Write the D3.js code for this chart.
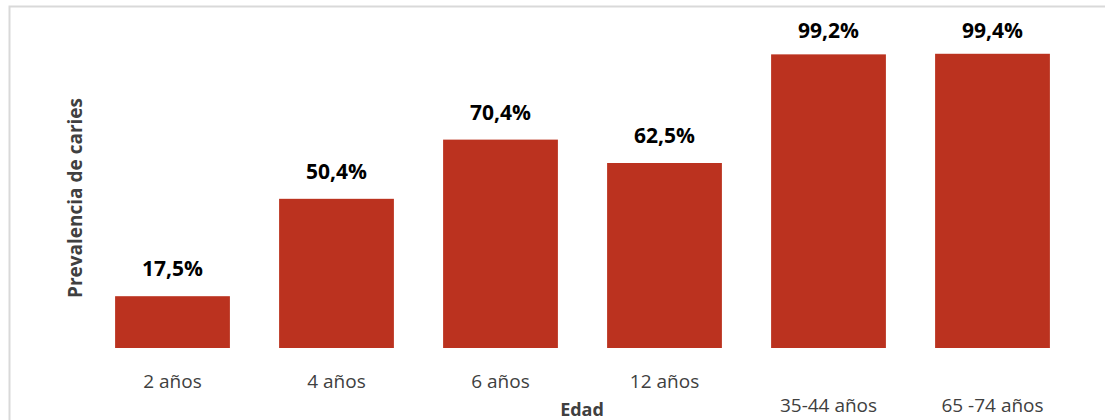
<!DOCTYPE html>
<html>
<head>
<meta charset="utf-8">
<script src="https://cdn.jsdelivr.net/npm/d3@7"></script>
<style>
  html, body { margin: 0; padding: 0; background: #fff; }
  svg { display: block; }
</style>
</head>
<body>
<svg id="chart" width="1105" height="420"></svg>
<script>
// Data
const categories = ["2 años", "4 años", "6 años", "12 años", "\n35-44 años", "\n65 -74 años"];
const values = [17.5, 50.4, 70.4, 62.5, 99.2, 99.4];
const yTitle = "Prevalencia de caries";
const xTitle = "Edad";

const svg = d3.select("#chart");

// Frame
svg.append("rect")
  .attr("x", 9.5).attr("y", 6.5)
  .attr("width", 1200).attr("height", 500)
  .attr("fill", "#fff")
  .attr("stroke", "#d9d9d9")
  .attr("stroke-width", 2);

const x = d3.scaleBand()
  .domain(categories)
  .range([90.5, 1074.5])
  .paddingInner(0.3)
  .paddingOuter(0.15);

const y = d3.scaleLinear().domain([0, 100]).range([348, 52]);

const locale = d3.formatLocale({decimal: ",", thousands: ".", grouping: [3], currency: ["", "€"]});
const fmt = locale.format(".1f");

const data = categories.map((c, i) => ({c, v: values[i]}));

// Bars
svg.append("g").selectAll("rect")
  .data(data)
  .join("rect")
  .attr("x", d => x(d.c))
  .attr("y", d => y(d.v))
  .attr("width", x.bandwidth())
  .attr("height", d => y(0) - y(d.v))
  .attr("fill", "#bb321f");

// Value labels
svg.append("g").selectAll("text")
  .data(data)
  .join("text")
  .attr("x", d => x(d.c) + x.bandwidth() / 2)
  .attr("y", d => Math.max(y(d.v) - 20, 38))
  .attr("text-anchor", "middle")
  .attr("font-family", "'Open Sans', sans-serif")
  .attr("font-weight", "bold")
  .attr("font-size", 21)
  .attr("fill", "#000")
  .text(d => fmt(d.v) + "%");

// X axis
const xAxis = svg.append("g")
  .attr("transform", `translate(0,${y(0)})`)
  .call(d3.axisBottom(x).tickSize(0).tickFormat(""));
xAxis.select(".domain").remove();
xAxis.selectAll(".tick").each(function(d) {
  const t = d3.select(this).append("text")
    .attr("text-anchor", "middle")
    .attr("font-family", "'Open Sans', sans-serif")
    .attr("font-size", 19)
    .attr("fill", "#404040");
  d.split("\n").forEach((line, i) => {
    t.append("tspan").attr("x", 0).attr("y", 40 + i * 24).text(line);
  });
});

// Axis titles
svg.append("text")
  .attr("x", 582).attr("y", 416)
  .attr("text-anchor", "middle")
  .attr("font-family", "'Open Sans', sans-serif")
  .attr("font-weight", "bold")
  .attr("font-size", 18)
  .attr("fill", "#404040")
  .text(xTitle);

svg.append("text")
  .attr("transform", "translate(82,198) rotate(-90)")
  .attr("text-anchor", "middle")
  .attr("font-family", "'Open Sans', sans-serif")
  .attr("font-weight", "bold")
  .attr("font-size", 19)
  .attr("fill", "#404040")
  .text(yTitle);
</script>
</body>
</html>
